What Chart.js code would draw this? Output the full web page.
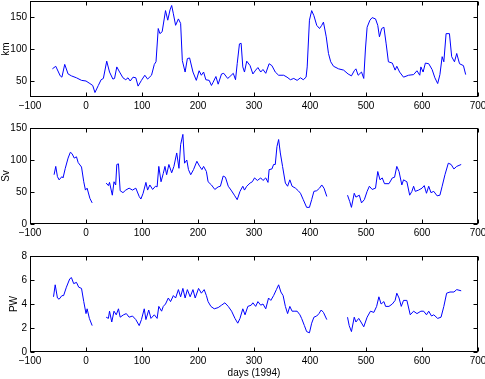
<!DOCTYPE html>
<html>
<head>
<meta charset="utf-8">
<script src="https://cdn.jsdelivr.net/npm/chart.js@4"></script>
<style>
  body { margin: 0; background: #fff; }
  .wrap { position: relative; width: 485px; height: 379px; }
  canvas { position: absolute; left: 0; }
</style>
</head>
<body>
<div class="wrap">
  <canvas id="c1" width="485" height="120" style="top:0px"></canvas>
  <canvas id="c2" width="485" height="120" style="top:120px"></canvas>
  <canvas id="c3" width="485" height="139" style="top:240px"></canvas>
</div>
<script>
// Tick values
const xTicks = [-100, 0, 100, 200, 300, 400, 500, 600, 700];
const kmTicks = [50, 100, 150];
const svTicks = [0, 50, 100, 150];
const pwTicks = [0, 2, 4, 6, 8];

// Panel 1: km
const kmDays = [-60, -54, -46, -43, -38, -32, -26, -17, -8, 0, 7, 12, 16, 22, 27, 31, 37, 42, 48, 51,
  55, 60, 66, 71, 75, 79, 84, 89, 93, 99, 105, 110, 117, 122, 125, 129, 132, 136, 142, 146,
  150, 153, 156, 160, 165, 169, 172, 177, 181, 185, 191, 197, 202, 206, 210, 214, 220, 224, 227, 232,
  236, 242, 246, 253, 257, 263, 267, 270, 274, 277, 280, 283, 287, 293, 298, 303, 307, 312, 316, 321,
  327, 332, 338, 344, 353, 359, 365, 371, 377, 383, 388, 393, 395, 399, 403, 407, 412, 417, 421, 424,
  429, 433, 437, 442, 451, 460, 468, 474, 479, 482, 486, 492, 496, 499, 502, 507, 511, 517, 521, 524,
  528, 532, 536, 540, 547, 552, 555, 560, 567, 576, 585, 591, 596, 598, 602, 606, 612, 618, 623, 628,
  632, 636, 639, 643, 649, 653, 658, 662, 667, 674, 678];
const kmVals = [69, 73, 58, 56, 76, 61, 58, 55, 51, 50, 46, 43, 32, 43, 52, 54, 81, 64, 53, 54,
  72, 64, 55, 52, 55, 50, 56, 55, 42, 51, 59, 53, 59, 76, 80, 132, 124, 127, 160, 145,
  161, 168, 155, 137, 147, 140, 82, 64, 85, 86, 64, 51, 66, 59, 64, 52, 51, 43, 48, 57,
  45, 61, 62, 54, 57, 62, 52, 77, 108, 109, 72, 64, 81, 74, 61, 67, 71, 64, 68, 62,
  77, 74, 64, 59, 59, 56, 52, 54, 51, 55, 52, 56, 72, 145, 160, 152, 137, 132, 137, 142,
  119, 93, 80, 73, 69, 67, 61, 58, 66, 69, 59, 64, 54, 100, 134, 145, 149, 147, 137, 119,
  132, 134, 108, 80, 78, 67, 73, 64, 56, 59, 60, 66, 59, 72, 64, 78, 77, 68, 55, 46,
  60, 88, 80, 124, 124, 88, 80, 93, 77, 74, 60];

// Panel 2: Sv (null = data gap)
const svDays = [-57, -54, -51, -48, -43, -41, -37, -32, -28, -25, -21, -17, -14, -8, -4, -1, 2, 7, 11, 24,
  36, 40, 42, 47, 50, 53, 55, 58, 61, 66, 71, 77, 83, 89, 95, 98, 102, 107, 110, 114,
  119, 124, 127, 130, 134, 138, 141, 144, 148, 153, 157, 162, 166, 169, 173, 176, 180, 183, 187, 192,
  198, 203, 207, 210, 215, 218, 224, 230, 236, 240, 245, 249, 254, 259, 265, 270, 275, 280, 283, 287,
  293, 297, 301, 306, 312, 316, 321, 325, 327, 332, 335, 338, 341, 344, 347, 351, 356, 360, 364, 368,
  374, 379, 383, 388, 394, 399, 403, 407, 412, 417, 421, 425, 430, 445,
  467, 471, 474, 479, 482, 488, 492, 497, 502, 506, 511, 517, 521, 525, 529, 533, 541, 547, 551, 555,
  559, 564, 567, 573, 578, 582, 585, 588, 594, 600, 604, 608, 612, 616, 621, 627, 632, 636, 641, 647,
  652, 657, 662, 670];
const svVals = [77, 90, 74, 69, 74, 72, 87, 103, 112, 110, 103, 105, 96, 89, 66, 53, 56, 40, 33, null,
  64, 60, 65, 45, 66, 61, 93, 94, 52, 49, 53, 56, 53, 56, 43, 39, 48, 65, 53, 61,
  54, 59, 58, 90, 66, 79, 90, 77, 93, 80, 90, 111, 87, 124, 140, 95, 100, 85, 77, 85,
  98, 90, 85, 90, 82, 66, 61, 54, 58, 59, 75, 73, 59, 53, 45, 38, 51, 59, 53, 59,
  64, 66, 72, 68, 72, 68, 72, 65, 85, 86, 93, 93, 121, 132, 111, 90, 64, 59, 69, 59,
  56, 52, 48, 38, 26, 26, 38, 51, 52, 56, 61, 56, 43, null,
  45, 35, 26, 48, 42, 45, 33, 38, 51, 59, 54, 56, 82, 69, 72, 63, 63, 72, 73, 90,
  82, 61, 69, 66, 45, 51, 59, 51, 53, 56, 60, 48, 59, 49, 51, 44, 45, 59, 77, 95,
  93, 86, 90, 93];

// Panel 3: PW (null = data gap)
const pwDays = [-58, -55, -51, -48, -43, -40, -35, -29, -26, -22, -17, -13, -8, -4, 0, 2, 6, 11, 24,
  36, 40, 42, 46, 50, 54, 58, 61, 67, 72, 77, 83, 89, 95, 99, 104, 107, 112, 116, 122,
  127, 130, 135, 138, 142, 147, 151, 156, 160, 165, 169, 173, 177, 181, 186, 191, 195, 201, 206, 211,
  215, 218, 223, 229, 236, 242, 248, 254, 260, 266, 271, 275, 280, 284, 289, 295, 298, 303, 307, 312,
  316, 321, 326, 330, 335, 340, 344, 348, 352, 356, 360, 364, 368, 373, 377, 382, 385, 390, 394, 399,
  403, 407, 412, 416, 420, 424, 430, 445,
  467, 470, 474, 479, 482, 487, 491, 496, 502, 508, 514, 519, 523, 527, 532, 535, 541, 547, 552, 555,
  559, 563, 567, 573, 579, 585, 591, 598, 603, 608, 612, 617, 621, 628, 634, 639, 644, 650, 657, 662, 670];
const pwVals = [4.6, 5.6, 4.5, 4.4, 4.7, 4.7, 5.4, 6.1, 6.2, 5.7, 5.8, 5.4, 5.3, 4.2, 3.2, 3.6, 2.8, 2.2, null,
  2.9, 2.8, 3.4, 2.5, 3.4, 3.1, 3.6, 2.9, 3.1, 3.2, 2.9, 3.0, 2.7, 2.2, 2.7, 3.6, 2.7, 3.5, 2.8, 3.1,
  2.8, 3.8, 3.4, 3.8, 4.0, 4.5, 4.2, 4.7, 4.5, 5.2, 4.6, 5.3, 4.5, 5.2, 4.6, 5.2, 4.5, 5.3, 4.9, 5.2,
  4.7, 4.2, 3.8, 3.6, 3.7, 3.9, 4.1, 3.8, 3.4, 2.8, 2.4, 2.8, 3.6, 3.1, 3.8, 3.9, 4.1, 3.8, 4.2, 3.9,
  4.0, 3.6, 4.5, 4.3, 4.7, 5.2, 5.6, 5.0, 4.7, 3.8, 3.2, 3.8, 3.4, 3.4, 3.4, 3.1, 2.8, 2.2, 1.7, 1.6,
  2.4, 2.9, 3.0, 3.2, 3.5, 3.3, 2.7, null,
  2.9, 2.2, 1.7, 2.9, 2.5, 2.8, 2.5, 2.1, 2.9, 3.4, 3.3, 3.8, 4.6, 4.0, 4.2, 3.8, 3.8, 4.0, 4.3, 4.9,
  4.5, 3.8, 4.3, 4.3, 3.1, 3.4, 3.2, 3.4, 3.4, 3.1, 3.4, 3.0, 3.1, 2.8, 2.9, 3.8, 4.9, 5.0, 5.0, 5.2, 5.1];

const FONT = { family: '"Liberation Sans", Arial, Helvetica, sans-serif', size: 10 };

function fmt(v) {
    return String(v).replace('-', '\u2212');
}

// Matlab-style box with inward ticks on all four sides
const boxPlugin = {
    id: 'matlabBox',
    afterDraw(chart) {
        const ctx = chart.ctx;
        const a = chart.chartArea;
        const l = Math.round(a.left) + 0.5, r = Math.round(a.right) - 0.5;
        const t = Math.round(a.top) + 0.5, b = Math.round(a.bottom) - 0.5;
        const tl = 4;
        ctx.save();
        ctx.strokeStyle = '#000';
        ctx.lineWidth = 1;
        ctx.beginPath();
        chart.scales.x.ticks.forEach(tk => {
            const px = Math.round(chart.scales.x.getPixelForValue(tk.value)) + 0.5;
            ctx.moveTo(px, b); ctx.lineTo(px, b - tl);
            ctx.moveTo(px, t); ctx.lineTo(px, t + tl);
        });
        chart.scales.y.ticks.forEach(tk => {
            const py = Math.round(chart.scales.y.getPixelForValue(tk.value)) + 0.5;
            ctx.moveTo(l, py); ctx.lineTo(l + tl, py);
            ctx.moveTo(r, py); ctx.lineTo(r - tl, py);
        });
        ctx.stroke();
        ctx.strokeRect(l, t, r - l, b - t);
        ctx.restore();
    }
};

function makePanel(id, days, vals, yMin, yMax, yTicks, yTitle, cfg) {
    const pts = days.map((d, i) => ({ x: d, y: vals[i] }));
    return new Chart(document.getElementById(id), {
        type: 'line',
        data: {
            datasets: [{
                data: pts,
                borderColor: '#0000ff',
                borderWidth: 1,
                pointRadius: 0,
                tension: 0,
                spanGaps: false,
                fill: false
            }]
        },
        options: {
            responsive: false,
            animation: false,
            layout: { padding: { top: cfg.top, right: 7, left: 0, bottom: 0 } },
            plugins: { legend: { display: false }, tooltip: { enabled: false } },
            scales: {
                x: {
                    type: 'linear',
                    min: -100,
                    max: 700,
                    afterBuildTicks: s => { s.ticks = xTicks.map(v => ({ value: v })); },
                    afterFit: s => { s.height = cfg.xh; s.paddingLeft = 0; s.paddingRight = 0; },
                    grid: { display: false, drawTicks: false },
                    border: { display: false },
                    ticks: { font: FONT, color: '#000', padding: 3, maxRotation: 0, autoSkip: false, callback: v => fmt(v) },
                    title: cfg.xTitle ? { display: true, text: cfg.xTitle, font: FONT, color: '#000', padding: 0 } : { display: false }
                },
                y: {
                    min: yMin,
                    max: yMax,
                    afterBuildTicks: s => { s.ticks = yTicks.map(v => ({ value: v })); },
                    afterFit: s => { s.width = 30; s.paddingTop = 0; s.paddingBottom = 0; },
                    grid: { display: false, drawTicks: false },
                    border: { display: false },
                    ticks: { font: FONT, color: '#000', padding: 3, callback: v => fmt(v) },
                    title: { display: true, text: yTitle, font: FONT, color: '#000', padding: { top: cfg.yPad, bottom: 0 } }
                }
            }
        },
        plugins: [boxPlugin]
    });
}

makePanel('c1', kmDays, kmVals, 25, 175, kmTicks, 'km', { top: 1, xh: 23, yPad: 0 });
makePanel('c2', svDays, svVals, 0, 150, svTicks, 'Sv', { top: 8, xh: 16, yPad: 0 });
makePanel('c3', pwDays, pwVals, 0, 8, pwTicks, 'PW', { top: 16, xh: 27, yPad: 8, xTitle: 'days (1994)' });
</script>
</body>
</html>
